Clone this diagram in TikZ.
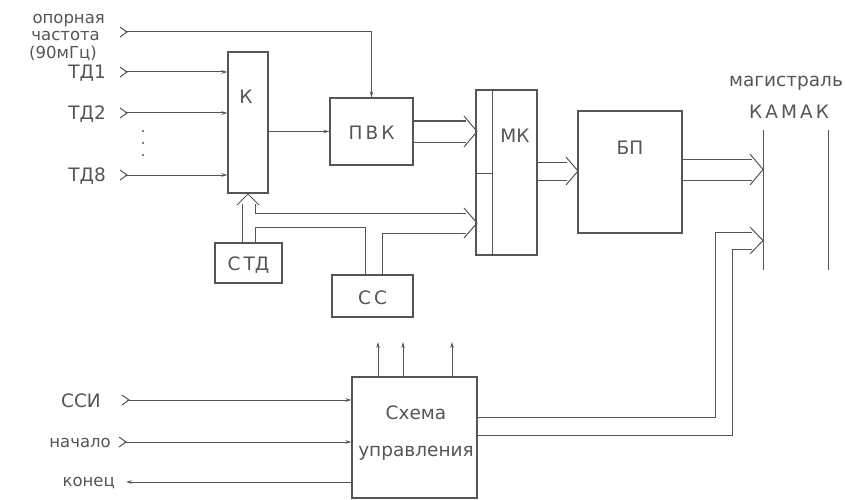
\documentclass[tikz,border=0pt]{standalone}
\usepackage{fontspec}
\setmainfont{DejaVu Sans}
\usetikzlibrary{arrows.meta}
\definecolor{ink}{RGB}{85,85,85}
\begin{document}
\begin{tikzpicture}[x=1pt,y=-1pt,
  blk/.style={draw=ink, line width=1.1pt, rectangle, inner sep=0pt},
  ln/.style={draw=ink, line width=1pt},
  arr/.style={ln, -{Stealth[length=6pt,width=3.5pt]}},
  lbl/.style={text=ink, inner sep=0pt, font=\fontsize{18.5}{20}\selectfont},
  slbl/.style={text=ink, inner sep=0pt, font=\fontsize{16.5}{18}\selectfont},
  chev/.pic={\draw[ln] (-5,-5) -- (2,0) -- (-5,5);}]
\useasboundingbox (0,0) rectangle (845,500);

% blocks
\node[blk, minimum width=40pt, minimum height=141pt] (K) at (248,122.5) {};
\node[lbl] (Klab) at (246,97) {К};
\node[blk, minimum width=83pt, minimum height=67pt] (PVK) at (371.5,131.5) {};
\node[lbl] (PVKlab) at (371.5,133) {П\,В\,К};
\node[blk, minimum width=61pt, minimum height=165pt] (MK) at (506.5,172.5) {};
\node[lbl] (MKlab) at (515,136) {МК};
\node[blk, minimum width=104pt, minimum height=122pt] (BP) at (630,172) {};
\node[lbl] (BPlab) at (630,148) {БП};
\node[blk, minimum width=67pt, minimum height=40pt] (STD) at (248.5,263) {};
\node[lbl] (STDlab) at (248.5,265) {С\,ТД};
\node[blk, minimum width=81pt, minimum height=42pt] (CC) at (372.5,296) {};
\node[lbl] (CClab) at (372.5,298) {С\,С};
\node[blk, minimum width=125pt, minimum height=121pt] (SU) at (414.5,437.5) {};
\node[lbl] (SUlab1) at (416,413) {Схема};
\node[lbl] (SUlab2) at (416,453) {управления};

% MK inner divisions
\coordinate (mkA) at (492,90);
\coordinate (mkB) at (492,255);
\coordinate (mkC) at (476,173);
\draw[ln] (mkA) -- (mkB);
\draw[ln] (mkC) -- (mkA |- mkC);

% input labels
\node[slbl, anchor=east] (op1) at (105,21) {опорная};
\node[slbl, anchor=east] (op2) at (100,36) {частота};
\node[slbl, anchor=east] (op3) at (97,53) {(90мГц)};
\node[lbl, anchor=east] (td1l) at (106,73) {ТД1};
\node[lbl, anchor=east] (td2l) at (106,114) {ТД2};
\node[lbl, anchor=east] (td8l) at (106,176) {ТД8};
\node[circle, fill=ink, inner sep=0.8pt] (d1) at (143,131) {};
\node[circle, fill=ink, inner sep=0.8pt] (d2) at (143,143) {};
\node[circle, fill=ink, inner sep=0.8pt] (d3) at (143,155) {};

% input chevrons and lines
\coordinate (in0) at (125,32);
\coordinate (in1) at (125,72);
\coordinate (in2) at (125,113);
\coordinate (in8) at (125,175);
\foreach \c in {in0,in1,in2,in8} \pic at (\c) {chev};
\draw[arr] (in0) -| (PVK.north);
\draw[arr] (in1) -- (K.west |- in1);
\draw[arr] (in2) -- (K.west |- in2);
\draw[arr] (in8) -- (K.west |- in8);

% K -> PVK
\draw[arr] (K.east |- PVK.west) -- (PVK.west);

% PVK -> MK bus
\coordinate (b1a) at (413,121);
\coordinate (b1b) at (413,142);
\draw[ln] (b1a) -- (466,121);
\draw[ln] (b1b) -- (466,142);
\draw[ln] (464,116) -- (477,131.5) -- (464,147);

% bus into K bottom
\draw[ln] (237,205) -- (248,194) -- (259,205);
\coordinate (kb1) at (242,204);
\coordinate (kb2) at (255,204);
\draw[ln] (kb1) -- (kb1 |- STD.north);
\draw[ln] (kb2) -- (255,213) -- (466,213);
\draw[ln] (CC.north -| 382,0) -- (382,233) -- (466,233);
\draw[ln] (464,208) -- (477,223) -- (464,238);
% STD -> CC
\draw[ln] (STD.north -| 255,0) -- (255,227) -- (365,227) -- (CC.north -| 365,0);

% MK -> BP
\draw[ln] (537,162) -- (567,162);
\draw[ln] (537,180) -- (567,180);
\draw[ln] (566,157) -- (578,171) -- (566,185);

% BP -> magistral
\draw[ln] (682,159) -- (752,159);
\draw[ln] (682,180) -- (752,180);
\draw[ln] (750,154) -- (763,169.5) -- (750,185);

% magistral
\coordinate (m1t) at (763,130);
\coordinate (m1b) at (763,270);
\coordinate (m2t) at (828,130);
\coordinate (m2b) at (828,270);
\draw[ln] (m1t) -- (m1b);
\draw[ln] (m2t) -- (m2b);
\node[lbl] (mag) at (786,83) {магистраль};
\node[lbl] (kam) at (789,112) {К\,А\,М\,А\,К};

% control -> magistral
\draw[ln] (SU.east |- 0,417) -- (715,417) -- (715,232) -- (752,232);
\draw[ln] (SU.east |- 0,435) -- (732,435) -- (732,249) -- (752,249);
\draw[ln] (750,227) -- (763,240.5) -- (750,254);

% control up arrows
\draw[arr] (SU.north -| 378,0) -- (378,342);
\draw[arr] (SU.north -| 403,0) -- (403,342);
\draw[arr] (SU.north -| 452,0) -- (452,342);

% bottom inputs
\node[lbl, anchor=east] (ssil) at (101,401) {ССИ};
\node[slbl, anchor=east] (nachl) at (111,443) {начало};
\node[slbl, anchor=east] (konl) at (115,483) {конец};
\coordinate (inS) at (127,400);
\coordinate (inN) at (124,442);
\coordinate (outK) at (126,482);
\pic at (inS) {chev};
\pic at (inN) {chev};
\draw[arr] (inS) -- (SU.west |- inS);
\draw[arr] (inN) -- (SU.west |- inN);
\draw[arr] (SU.west |- outK) -- (outK);
\end{tikzpicture}
\end{document}
